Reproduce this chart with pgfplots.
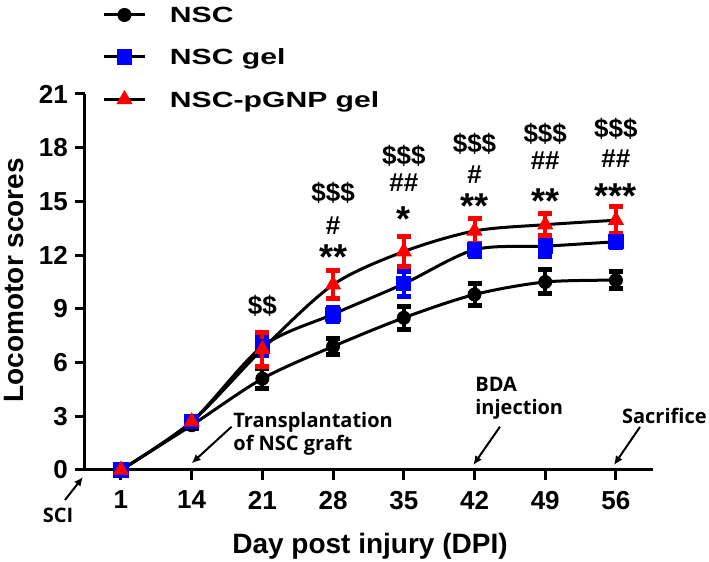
\documentclass[border=0pt]{standalone}
\usepackage{fontspec}
\setmainfont{Liberation Sans}
\newfontfamily\annfont{Open Sans}
\newfontfamily\legfont[FakeStretch=1.37]{Liberation Sans}
\usepackage{pgfplots}
\pgfplotsset{compat=1.18}
\usetikzlibrary{arrows.meta}
\definecolor{pblue}{RGB}{0,0,255}
\definecolor{pred}{RGB}{255,0,0}
\begin{document}
\begin{tikzpicture}
\begin{axis}[
  scale only axis, width=283.85pt, height=188pt,
  xmin=-0.509, xmax=7.52, ymin=0, ymax=21,
  clip=false,
  axis x line=bottom, axis y line=left,
  axis line style={-, line width=1.5pt},
  every outer x axis line/.append style={-},
  every outer y axis line/.append style={-},
  xtick={0,...,7}, xticklabels={1,14,21,28,35,42,49,56},
  ytick={0,3,...,21},
  tick align=outside, major tick length=5pt,
  tick style={line width=1.5pt, black},
  /pgf/number format/assume math mode=true,
  tick label style={font=\fontsize{13}{13}\selectfont\bfseries},
  xticklabel style={yshift=-2pt},
  xlabel={Day post injury (DPI)},
  ylabel={Locomotor scores},
  xlabel style={at={(rel axis cs:0.502,-0.202)}, anchor=center, font=\fontsize{14}{14}\selectfont\bfseries},
  ylabel style={at={(rel axis cs:-0.125,0.505)}, anchor=center, font=\fontsize{14}{14}\selectfont\bfseries},
  legend style={at={(rel axis cs:0.0317,1.2314)}, anchor=north west, draw=none, fill=none,
    inner sep=0pt, outer sep=0pt, row sep=13pt, column sep=0pt,
    font=\legfont\fontsize{11}{11}\selectfont\bfseries,
    nodes={inner sep=0pt, text height=8pt, text depth=0pt},
    /tikz/every odd column/.append style={column sep=12pt}},
  legend cell align=left,
  legend image code/.code={\draw[mark repeat=2,mark phase=2] plot coordinates {(0pt,0pt)(10pt,0pt)(20pt,0pt)};},
]
% NSC
\addplot[smooth, draw=black, line width=1.5pt, mark=*, mark size=3.25pt,
  mark options={fill=black, draw=black, line width=0.5pt},
  error bars/.cd, y dir=both, y explicit,
  error bar style={line width=2pt, black},
  error mark options={rotate=90, mark size=3.5pt, line width=2.5pt, black}]
coordinates {(0,0) +- (0,0) (1,2.5) +- (0,0.2) (2,5.1) +- (0,0.55) (3,6.9) +- (0,0.45)
 (4,8.5) +- (0,0.65) (5,9.8) +- (0,0.62) (6,10.5) +- (0,0.67) (7,10.6) +- (0,0.48)};
\addlegendentry{NSC}
% NSC gel
\addplot[smooth, draw=black, line width=1.5pt, mark=square*, mark size=3.6pt,
  mark options={fill=pblue, draw=pblue, line width=0.5pt},
  error bars/.cd, y dir=both, y explicit,
  error bar style={line width=2pt, pblue},
  error mark options={rotate=90, mark size=3.5pt, line width=2.5pt, pblue}]
coordinates {(0,0) +- (0,0) (1,2.7) +- (0,0.2) (2,6.9) +- (0,0.5) (3,8.7) +- (0,0.4)
 (4,10.4) +- (0,0.7) (5,12.3) +- (0,0.35) (6,12.5) +- (0,0.6) (7,12.75) +- (0,0.3)};
\addlegendentry{NSC gel}
% NSC-pGNP gel
\addplot[smooth, draw=black, line width=1.5pt, mark=triangle*, mark size=4.2pt,
  mark options={fill=pred, draw=pred, line width=0.5pt},
  error bars/.cd, y dir=both, y explicit,
  error bar style={line width=2pt, pred},
  error mark options={rotate=90, mark size=3.5pt, line width=2.5pt, pred}]
coordinates {(0,0) +- (0,0) (1,2.7) +- (0,0.2) (2,6.75) +- (0,0.95) (3,10.35) +- (0,0.8)
 (4,12.2) +- (0,0.85) (5,13.35) +- (0,0.72) (6,13.7) +- (0,0.6) (7,13.95) +- (0,0.75)};
\addlegendentry{NSC-pGNP gel}

% x axis line extension to the left
\draw[line width=1.5pt] (axis cs:-0.65,0) -- (axis cs:-0.509,0);

% significance marks
\begin{scope}[every node/.style={font=\fontsize{13}{13}\selectfont\bfseries, anchor=base, inner sep=0pt}]
\node at (axis cs:2,8.69) {\$\$};
\node at (axis cs:3,15.02) {\$\$\$};
\node at (axis cs:3,13.16) {\#};
\node at (axis cs:4,17.07) {\$\$\$};
\node at (axis cs:4,15.54) {\#\#};
\node at (axis cs:5,17.74) {\$\$\$};
\node at (axis cs:5,16.01) {\#};
\node at (axis cs:6,18.28) {\$\$\$};
\node at (axis cs:6,16.79) {\#\#};
\node at (axis cs:7,18.56) {\$\$\$};
\node at (axis cs:7,16.9) {\#\#};
\end{scope}
\begin{scope}[every node/.style={font=\fontsize{18}{18}\selectfont\bfseries, anchor=base, inner sep=0pt}]
\node at (axis cs:3,11.17) {**};
\node at (axis cs:4,13.30) {*};
\node at (axis cs:5,14.02) {**};
\node at (axis cs:6,14.30) {**};
\node at (axis cs:7,14.58) {***};
\end{scope}

% event annotations
\begin{scope}[every node/.style={font=\annfont\bfseries\fontsize{10}{11.5}\selectfont, inner sep=0pt}]
\node[anchor=center] at (rel axis cs:-0.0476,-0.1197) {SCI};
\node[anchor=west, align=left] at (rel axis cs:0.2607,0.0957) {Transplantation\\of NSC graft};
\node[anchor=west, align=left] at (rel axis cs:0.687,0.1915) {BDA\\injection};
\node[anchor=east] at (rel axis cs:1.0957,0.1436) {Sacrifice};
\end{scope}
\begin{scope}[line width=1pt, -{Latex[length=4.5pt,width=4pt]}]
\draw (rel axis cs:-0.0352,-0.0798) -- (rel axis cs:-0.0035,-0.0186);
\draw (rel axis cs:0.2583,0.1152) -- (rel axis cs:0.1878,0.0178);
\draw (rel axis cs:0.731,0.115) -- (rel axis cs:0.684,0.0133);
\draw (rel axis cs:0.9776,0.1144) -- (rel axis cs:0.9318,0.0133);
\end{scope}

\coordinate (bbsw) at (rel axis cs:-0.1497,-0.2447);
\coordinate (bbne) at (rel axis cs:1.0992,1.25);
\end{axis}
\pgfresetboundingbox
\path (bbsw) rectangle (bbne);
\end{tikzpicture}
\end{document}
